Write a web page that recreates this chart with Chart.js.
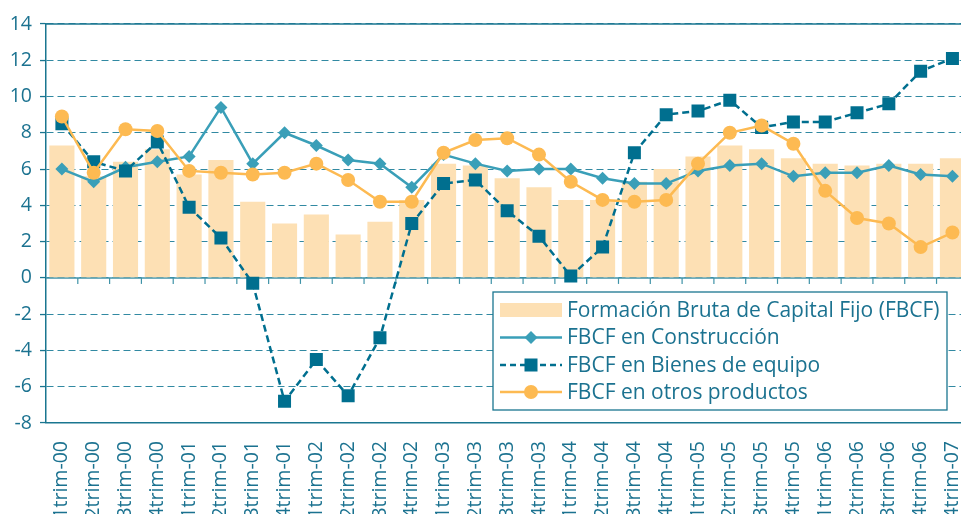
<!DOCTYPE html>
<html>
<head>
<meta charset="utf-8">
<script src="https://cdn.jsdelivr.net/npm/chart.js@4/dist/chart.umd.min.js"></script>
<style>
html,body{margin:0;padding:0;overflow:hidden;background:#fff;}
canvas{display:block;}
</style>
</head>
<body>
<canvas id="c" width="986" height="514"></canvas>
<script>
const categories = ['1trim-00','2trim-00','3trim-00','4trim-00','1trim-01','2trim-01','3trim-01','4trim-01',
  '1trim-02','2trim-02','3trim-02','4trim-02','1trim-03','2trim-03','3trim-03','4trim-03',
  '1trim-04','2trim-04','3trim-04','4trim-04','1trim-05','2trim-05','3trim-05','4trim-05',
  '1trim-06','2trim-06','3trim-06','4trim-06','4trim-07'];
const fbcf =        [7.3,5.6,6.4,7.1,5.7,6.5,4.2,3.0,3.5,2.4,3.1,4.3,6.3,6.2,5.5,5.0,4.3,4.3,5.3,6.0,6.7,7.3,7.1,6.6,6.3,6.2,6.3,6.3,6.6];
const construccion =[6.0,5.3,6.1,6.4,6.7,9.4,6.3,8.0,7.3,6.5,6.3,5.0,6.8,6.3,5.9,6.0,6.0,5.5,5.2,5.2,5.9,6.2,6.3,5.6,5.8,5.8,6.2,5.7,5.6];
const bienes =      [8.5,6.4,5.9,7.5,3.9,2.2,-0.3,-6.8,-4.5,-6.5,-3.3,3.0,5.2,5.4,3.7,2.3,0.1,1.7,6.9,9.0,9.2,9.8,8.3,8.6,8.6,9.1,9.6,11.4,12.1];
const otros =       [8.9,5.8,8.2,8.1,5.9,5.8,5.7,5.8,6.3,5.4,4.2,4.2,6.9,7.6,7.7,6.8,5.3,4.3,4.2,4.3,6.3,8.0,8.4,7.4,4.8,3.3,3.0,1.7,2.5];
const yMin = -8, yMax = 14, yStep = 2;
const seriesNames = ['Formación Bruta de Capital Fijo (FBCF)','FBCF en Construcción','FBCF en Bienes de equipo','FBCF en otros productos'];

const TEXT = '#1b7290';
const AXIS = '#1a7690';
const GRID = '#3189a2';
const C_BAR = '#fde0b4';
const C_CON = '#3a9fb8';
const C_BIE = '#006f8f';
const C_OTR = '#fdba52';
const FONT = "'Open Sans', sans-serif";

const framePlugin = {
  id: 'frame',
  beforeDatasetsDraw(chart) {
    const {ctx, chartArea, scales: {x, y}} = chart;
    ctx.save();
    ctx.strokeStyle = AXIS;
    ctx.lineWidth = 1.5;
    ctx.setLineDash([]);
    const yTop = y.getPixelForValue(yMax);
    ctx.beginPath(); ctx.moveTo(chartArea.left, yTop); ctx.lineTo(chartArea.right, yTop); ctx.stroke();
    const y0 = y.getPixelForValue(0);
    ctx.strokeStyle = '#3f93a8';
    ctx.beginPath(); ctx.moveTo(chartArea.left, y0); ctx.lineTo(chartArea.right, y0); ctx.stroke();
    const half = (x.getPixelForValue(1) - x.getPixelForValue(0)) / 2;
    ctx.lineWidth = 1.2;
    for (let i = 1; i <= categories.length; i++) {
      const bx = x.getPixelForValue(i) - half;
      ctx.beginPath(); ctx.moveTo(bx, y0); ctx.lineTo(bx, y0 + 6); ctx.stroke();
    }
    ctx.restore();
  },
  afterDraw(chart) {
    const {ctx, chartArea} = chart;
    const lx = chartArea.left + 447, ly = 292, lw = 454, lh = 118;
    ctx.save();
    ctx.fillStyle = '#fff';
    ctx.fillRect(lx, ly, lw, lh);
    ctx.strokeStyle = AXIS;
    ctx.lineWidth = 1.3;
    ctx.strokeRect(lx, ly, lw, lh);
    const sx1 = lx + 7, sx2 = lx + 69, mx = (sx1 + sx2) / 2, tx = lx + 74;
    const rows = [ly + 18, ly + 45.5, ly + 73, ly + 100];
    ctx.fillStyle = C_BAR;
    ctx.fillRect(sx1, rows[0] - 7, sx2 - sx1, 14);
    const lines = [
      {color: C_CON, dash: [], style: 'rectRot', r: 6.5},
      {color: C_BIE, dash: [6, 4], style: 'rect', r: 9.2},
      {color: C_OTR, dash: [], style: 'circle', r: 7}
    ];
    lines.forEach((l, i) => {
      const yy = rows[i + 1];
      ctx.strokeStyle = l.color;
      ctx.lineWidth = 2.5;
      ctx.setLineDash(l.dash);
      ctx.beginPath(); ctx.moveTo(sx1, yy); ctx.lineTo(sx2, yy); ctx.stroke();
      ctx.setLineDash([]);
      ctx.fillStyle = l.color;
      Chart.helpers.drawPoint(ctx, {pointStyle: l.style, radius: l.r, borderWidth: 0, rotation: 0}, mx, yy);
    });
    ctx.fillStyle = TEXT;
    ctx.font = "21px " + FONT;
    ctx.textBaseline = 'middle';
    ctx.textAlign = 'left';
    seriesNames.forEach((n, i) => ctx.fillText(n, tx, rows[i] + 1));
    ctx.restore();
  }
};

new Chart(document.getElementById('c'), {
  data: {
    labels: categories,
    datasets: [
      {type: 'bar', label: seriesNames[0], data: fbcf, backgroundColor: C_BAR, borderWidth: 0,
       barPercentage: 0.79, categoryPercentage: 1, order: 4},
      {type: 'line', label: seriesNames[1], data: construccion, borderColor: C_CON, backgroundColor: C_CON,
       borderWidth: 2.5, pointStyle: 'rectRot', pointRadius: 6.5, pointBorderWidth: 0, tension: 0, order: 3},
      {type: 'line', label: seriesNames[2], data: bienes, borderColor: C_BIE, backgroundColor: C_BIE,
       borderWidth: 2.5, borderDash: [7, 4], pointStyle: 'rect', pointRadius: 9.2, pointBorderWidth: 0, tension: 0, order: 2},
      {type: 'line', label: seriesNames[3], data: otros, borderColor: C_OTR, backgroundColor: C_OTR,
       borderWidth: 2.5, pointStyle: 'circle', pointRadius: 7, pointBorderWidth: 0, tension: 0, order: 1}
    ]
  },
  options: {
    responsive: false,
    animation: false,
    events: [],
    layout: {padding: {top: 24, right: 2, left: 0, bottom: 0}},
    plugins: {legend: {display: false}, tooltip: {enabled: false}, title: {display: false}},
    scales: {
      x: {
        type: 'category',
        offset: true,
        grid: {display: false, offset: true},
        border: {display: true, color: AXIS, width: 1.5},
        ticks: {autoSkip: false, maxRotation: 90, minRotation: 90, padding: 10,
                color: TEXT, font: {family: FONT, size: 19.5}},
        afterFit(scale) { scale.height = 91; }
      },
      y: {
        min: yMin, max: yMax,
        ticks: {stepSize: yStep, padding: 8, color: TEXT, font: {family: FONT, size: 19.5}},
        grid: {color: GRID, lineWidth: 1.1, tickLength: 6, tickColor: AXIS, tickWidth: 1.3, drawTicks: true},
        border: {display: true, color: AXIS, width: 1.5, dash: [7, 4]},
        afterFit(scale) { scale.width = 46; }
      }
    }
  },
  plugins: [framePlugin]
});
</script>
</body>
</html>
